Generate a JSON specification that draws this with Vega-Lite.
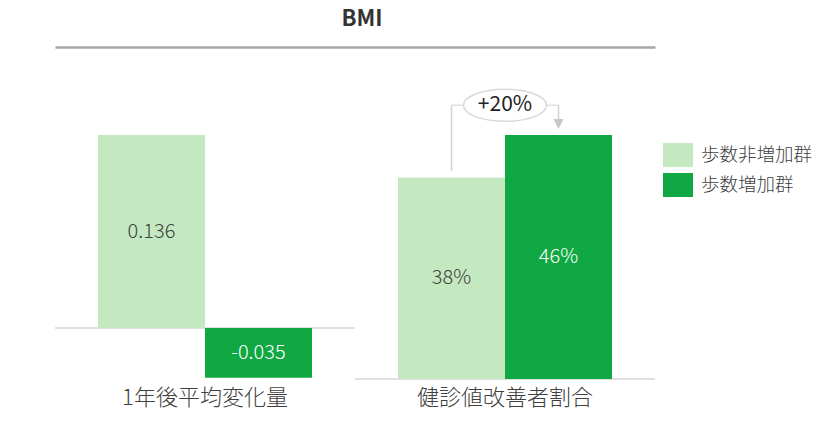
{
  "$schema": "https://vega.github.io/schema/vega-lite/v6.json",
  "autosize": "none",
  "width": 600,
  "height": 332,
  "padding": {"left": 55, "top": 47, "right": 185, "bottom": 46},
  "background": "white",
  "config": {
    "font": "Noto Sans CJK JP",
    "view": {"stroke": null}
  },
  "title": {
    "text": "BMI",
    "fontSize": 22,
    "fontWeight": "bold",
    "color": "#333333",
    "offset": 16,
    "dx": 7
  },
  "datasets": {
    "bars": [
      {"group": "1年後平均変化量", "series": "歩数非増加群", "value": 0.136, "label": "0.136"},
      {"group": "1年後平均変化量", "series": "歩数増加群", "value": -0.035, "label": "-0.035"},
      {"group": "健診値改善者割合", "series": "歩数非増加群", "value": 38, "label": "38%"},
      {"group": "健診値改善者割合", "series": "歩数増加群", "value": 46, "label": "46%"}
    ],
    "bracket": [
      {"group": "健診値改善者割合", "series": "歩数非増加群", "from": 39.2, "to": 51.6},
      {"group": "健診値改善者割合", "series": "歩数増加群", "from": 51.6, "to": 48.1}
    ],
    "badge": [
      {"group": "健診値改善者割合", "series": "歩数増加群", "top": 51.6, "arrow": 48.1, "text": "+20%"}
    ]
  },
  "layer": [
    {
      "data": {"name": "bars"},
      "transform": [{"filter": "datum.group === '1年後平均変化量'"}],
      "encoding": {
        "x": {
          "field": "group",
          "type": "nominal",
          "sort": null,
          "scale": {
            "domain": ["1年後平均変化量", "健診値改善者割合"],
            "paddingInner": 0,
            "paddingOuter": 0
          },
          "axis": {
            "orient": "bottom",
            "title": null,
            "ticks": false,
            "domain": false,
            "labelAngle": 0,
            "labelFontSize": 22,
            "labelFontWeight": 300,
            "labelColor": "#404040",
            "labelPadding": 8
          }
        },
        "y": {
          "field": "value",
          "type": "quantitative",
          "scale": {"domain": [-0.0359, 0.198], "nice": false, "zero": false},
          "axis": null
        }
      },
      "layer": [
        {
          "mark": {"type": "tick", "color": "#dddddd", "size": 300, "thickness": 2},
          "encoding": {
            "y": {"datum": 0, "type": "quantitative"}
          }
        },
        {
          "mark": {"type": "bar"},
          "encoding": {
            "xOffset": {"field": "series", "type": "nominal", "sort": null, "scale": {"paddingInner": 0, "paddingOuter": 0.4019}},
            "color": {
              "field": "series",
              "type": "nominal",
              "scale": {"domain": ["歩数非増加群", "歩数増加群"], "range": ["#c4e8bf", "#10a843"]},
              "legend": {
                "title": null,
                "orient": "none",
                "legendX": 608,
                "legendY": 93,
                "symbolType": "M-1,-0.8H1V0.8H-1Z",
                "symbolSize": 900,
                "symbolStrokeWidth": 0,
                "labelFontSize": 18.5,
                "labelFontWeight": 300,
                "labelColor": "#404040",
                "labelOffset": 8,
                "rowPadding": 3,
                "padding": 0
              }
            }
          }
        }
      ]
    },
    {
      "data": {"name": "bars"},
      "transform": [{"filter": "datum.group === '1年後平均変化量'"}],
      "mark": {"type": "text", "fontSize": 20, "fontWeight": 300, "baseline": "middle"},
      "encoding": {
        "x": {"field": "group", "type": "nominal", "sort": null, "axis": null},
        "xOffset": {"field": "series", "type": "nominal", "sort": null},
        "y": {
          "field": "value",
          "type": "quantitative",
          "scale": {"domain": [-0.0718, 0.396], "nice": false, "zero": false},
          "axis": null
        },
        "text": {"field": "label"},
        "fill": {
          "condition": {"test": "datum.series === '歩数増加群'", "value": "white"},
          "value": "#404040"
        }
      }
    },
    {
      "data": {"name": "bars"},
      "transform": [{"filter": "datum.group === '健診値改善者割合'"}],
      "encoding": {
        "x": {
          "field": "group",
          "type": "nominal",
          "sort": null,
          "axis": {
            "orient": "top",
            "title": null,
            "ticks": false,
            "labels": false,
            "grid": false,
            "domain": true,
            "domainColor": "#a6a6a6",
            "domainWidth": 2.5
          }
        },
        "y": {
          "field": "value",
          "type": "quantitative",
          "scale": {"domain": [0, 62.6], "nice": false},
          "axis": null
        }
      },
      "layer": [
        {
          "mark": {"type": "tick", "color": "#dddddd", "size": 300, "thickness": 2},
          "encoding": {
            "y": {"datum": 0, "type": "quantitative"}
          }
        },
        {
          "mark": {"type": "bar"},
          "encoding": {
            "xOffset": {"field": "series", "type": "nominal", "sort": null},
            "color": {"field": "series", "type": "nominal"}
          }
        },
        {
          "data": {"name": "bracket"},
          "mark": {"type": "rule", "color": "#d3d3d3", "strokeWidth": 1.5},
          "encoding": {
            "xOffset": {"field": "series", "type": "nominal", "sort": null},
            "y": {"field": "from", "type": "quantitative"},
            "y2": {"field": "to"}
          }
        },
        {
          "data": {"name": "badge"},
          "mark": {"type": "tick", "color": "#d3d3d3", "size": 107, "thickness": 1.5},
          "encoding": {
            "y": {"field": "top", "type": "quantitative"}
          }
        },
        {
          "data": {"name": "badge"},
          "mark": {"type": "point", "shape": "M-1,-1L1,-1L0,1Z", "size": 100, "filled": true, "color": "#c8c8c8", "opacity": 1},
          "encoding": {
            "xOffset": {"field": "series", "type": "nominal", "sort": null},
            "y": {"field": "arrow", "type": "quantitative"}
          }
        },
        {
          "data": {"name": "badge"},
          "mark": {"type": "point", "shape": "M-1,0A1,0.386 0 1,1 1,0A1,0.386 0 1,1 -1,0Z", "size": 6889, "filled": false, "fill": "white", "fillOpacity": 1, "stroke": "#d9d9d9", "strokeWidth": 1.5, "opacity": 1},
          "encoding": {
            "y": {"field": "top", "type": "quantitative"}
          }
        },
        {
          "data": {"name": "badge"},
          "mark": {"type": "text", "fontSize": 21, "fontWeight": 400, "color": "#222222", "baseline": "middle"},
          "encoding": {
            "y": {"field": "top", "type": "quantitative"},
            "text": {"field": "text"}
          }
        }
      ]
    },
    {
      "data": {"name": "bars"},
      "transform": [{"filter": "datum.group === '健診値改善者割合'"}],
      "mark": {"type": "text", "fontSize": 20, "fontWeight": 300, "baseline": "middle"},
      "encoding": {
        "x": {"field": "group", "type": "nominal", "sort": null, "axis": null},
        "xOffset": {"field": "series", "type": "nominal", "sort": null},
        "y": {
          "field": "value",
          "type": "quantitative",
          "scale": {"domain": [0, 125.2], "nice": false},
          "axis": null
        },
        "text": {"field": "label"},
        "fill": {
          "condition": {"test": "datum.series === '歩数増加群'", "value": "white"},
          "value": "#404040"
        }
      }
    }
  ],
  "resolve": {"scale": {"y": "independent"}, "axis": {"x": "independent"}}
}
